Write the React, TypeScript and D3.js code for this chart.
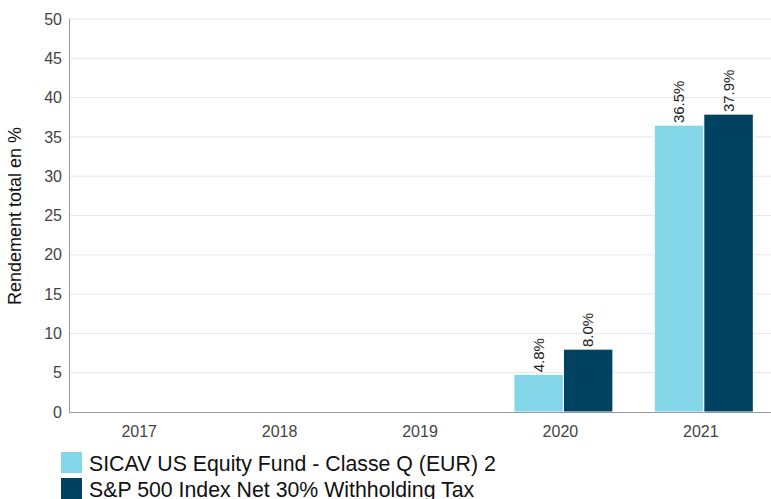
import React from "react";
import * as d3 from "d3";

const categories = ["2017", "2018", "2019", "2020", "2021"];
const seriesNames = [
  "SICAV US Equity Fund - Classe Q (EUR) 2",
  "S&P 500 Index Net 30% Withholding Tax",
];
const fundValues: (number | null)[] = [null, null, null, 4.8, 36.5];
const indexValues: (number | null)[] = [null, null, null, 8.0, 37.9];
const yTicks = [0, 5, 10, 15, 20, 25, 30, 35, 40, 45, 50];
const colors = ["#82d6e8", "#00425f"];

export default function App() {
  const W = 771, H = 499;
  const left = 69, right = 771, top = 19, bottom = 412;
  const x = d3.scaleBand<string>().domain(categories).range([left, right]).paddingInner(0).paddingOuter(0);
  const y = d3.scaleLinear().domain([0, 50]).range([bottom, top]);
  const inner = d3.scaleBand<number>().domain([0, 1]).range([0, x.bandwidth()]).paddingInner(0).paddingOuter(0.418);
  const series = [fundValues, indexValues];
  const font = "Liberation Sans, Arial, sans-serif";
  const shift = 3;

  return (
    <svg width={W} height={H} style={{ position: "absolute", left: 0, top: 0 }} fontFamily={font}>
      {yTicks.map((t) => (
        <g key={t}>
          {t > 0 && <line x1={left} x2={right} y1={y(t)} y2={y(t)} stroke="#e6e6e6" strokeWidth={1} />}
          <text x={62} y={y(t)} dy="0.35em" textAnchor="end" fontSize={16} fill="#444">{t}</text>
        </g>
      ))}
      {series.map((vals, si) =>
        vals.map((v, ci) => {
          if (v == null) return null;
          const bx = (x(categories[ci]) as number) + (inner(si) as number) + shift;
          const bw = inner.bandwidth();
          return (
            <g key={`${si}-${ci}`}>
              <rect x={bx} y={y(v)} width={bw} height={bottom - y(v)} fill={colors[si]} stroke="#fff" strokeWidth={1} />
              <text transform={`translate(${bx + bw / 2 + 5},${y(v) - 2}) rotate(-90)`} fontSize={15} fill="#222">{v.toFixed(1)}%</text>
            </g>
          );
        })
      )}
      <line x1={left + 0.5} x2={left + 0.5} y1={top} y2={bottom} stroke="#999" />
      <line x1={left} x2={right} y1={bottom + 0.5} y2={bottom + 0.5} stroke="#999" />
      {categories.map((c) => (
        <text key={c} x={(x(c) as number) + x.bandwidth() / 2} y={431} dy="0.35em" textAnchor="middle" fontSize={16} fill="#444">{c}</text>
      ))}
      <text transform={`translate(21,216) rotate(-90)`} textAnchor="middle" fontSize={18} fill="#111">Rendement total en %</text>
      {seriesNames.map((n, i) => (
        <g key={n}>
          <rect x={61} y={452 + i * 26} width={21} height={21} fill={colors[i]} />
          <text x={89} y={471 + i * 26} fontSize={21.3} fill="#111">{n}</text>
        </g>
      ))}
    </svg>
  );
}
